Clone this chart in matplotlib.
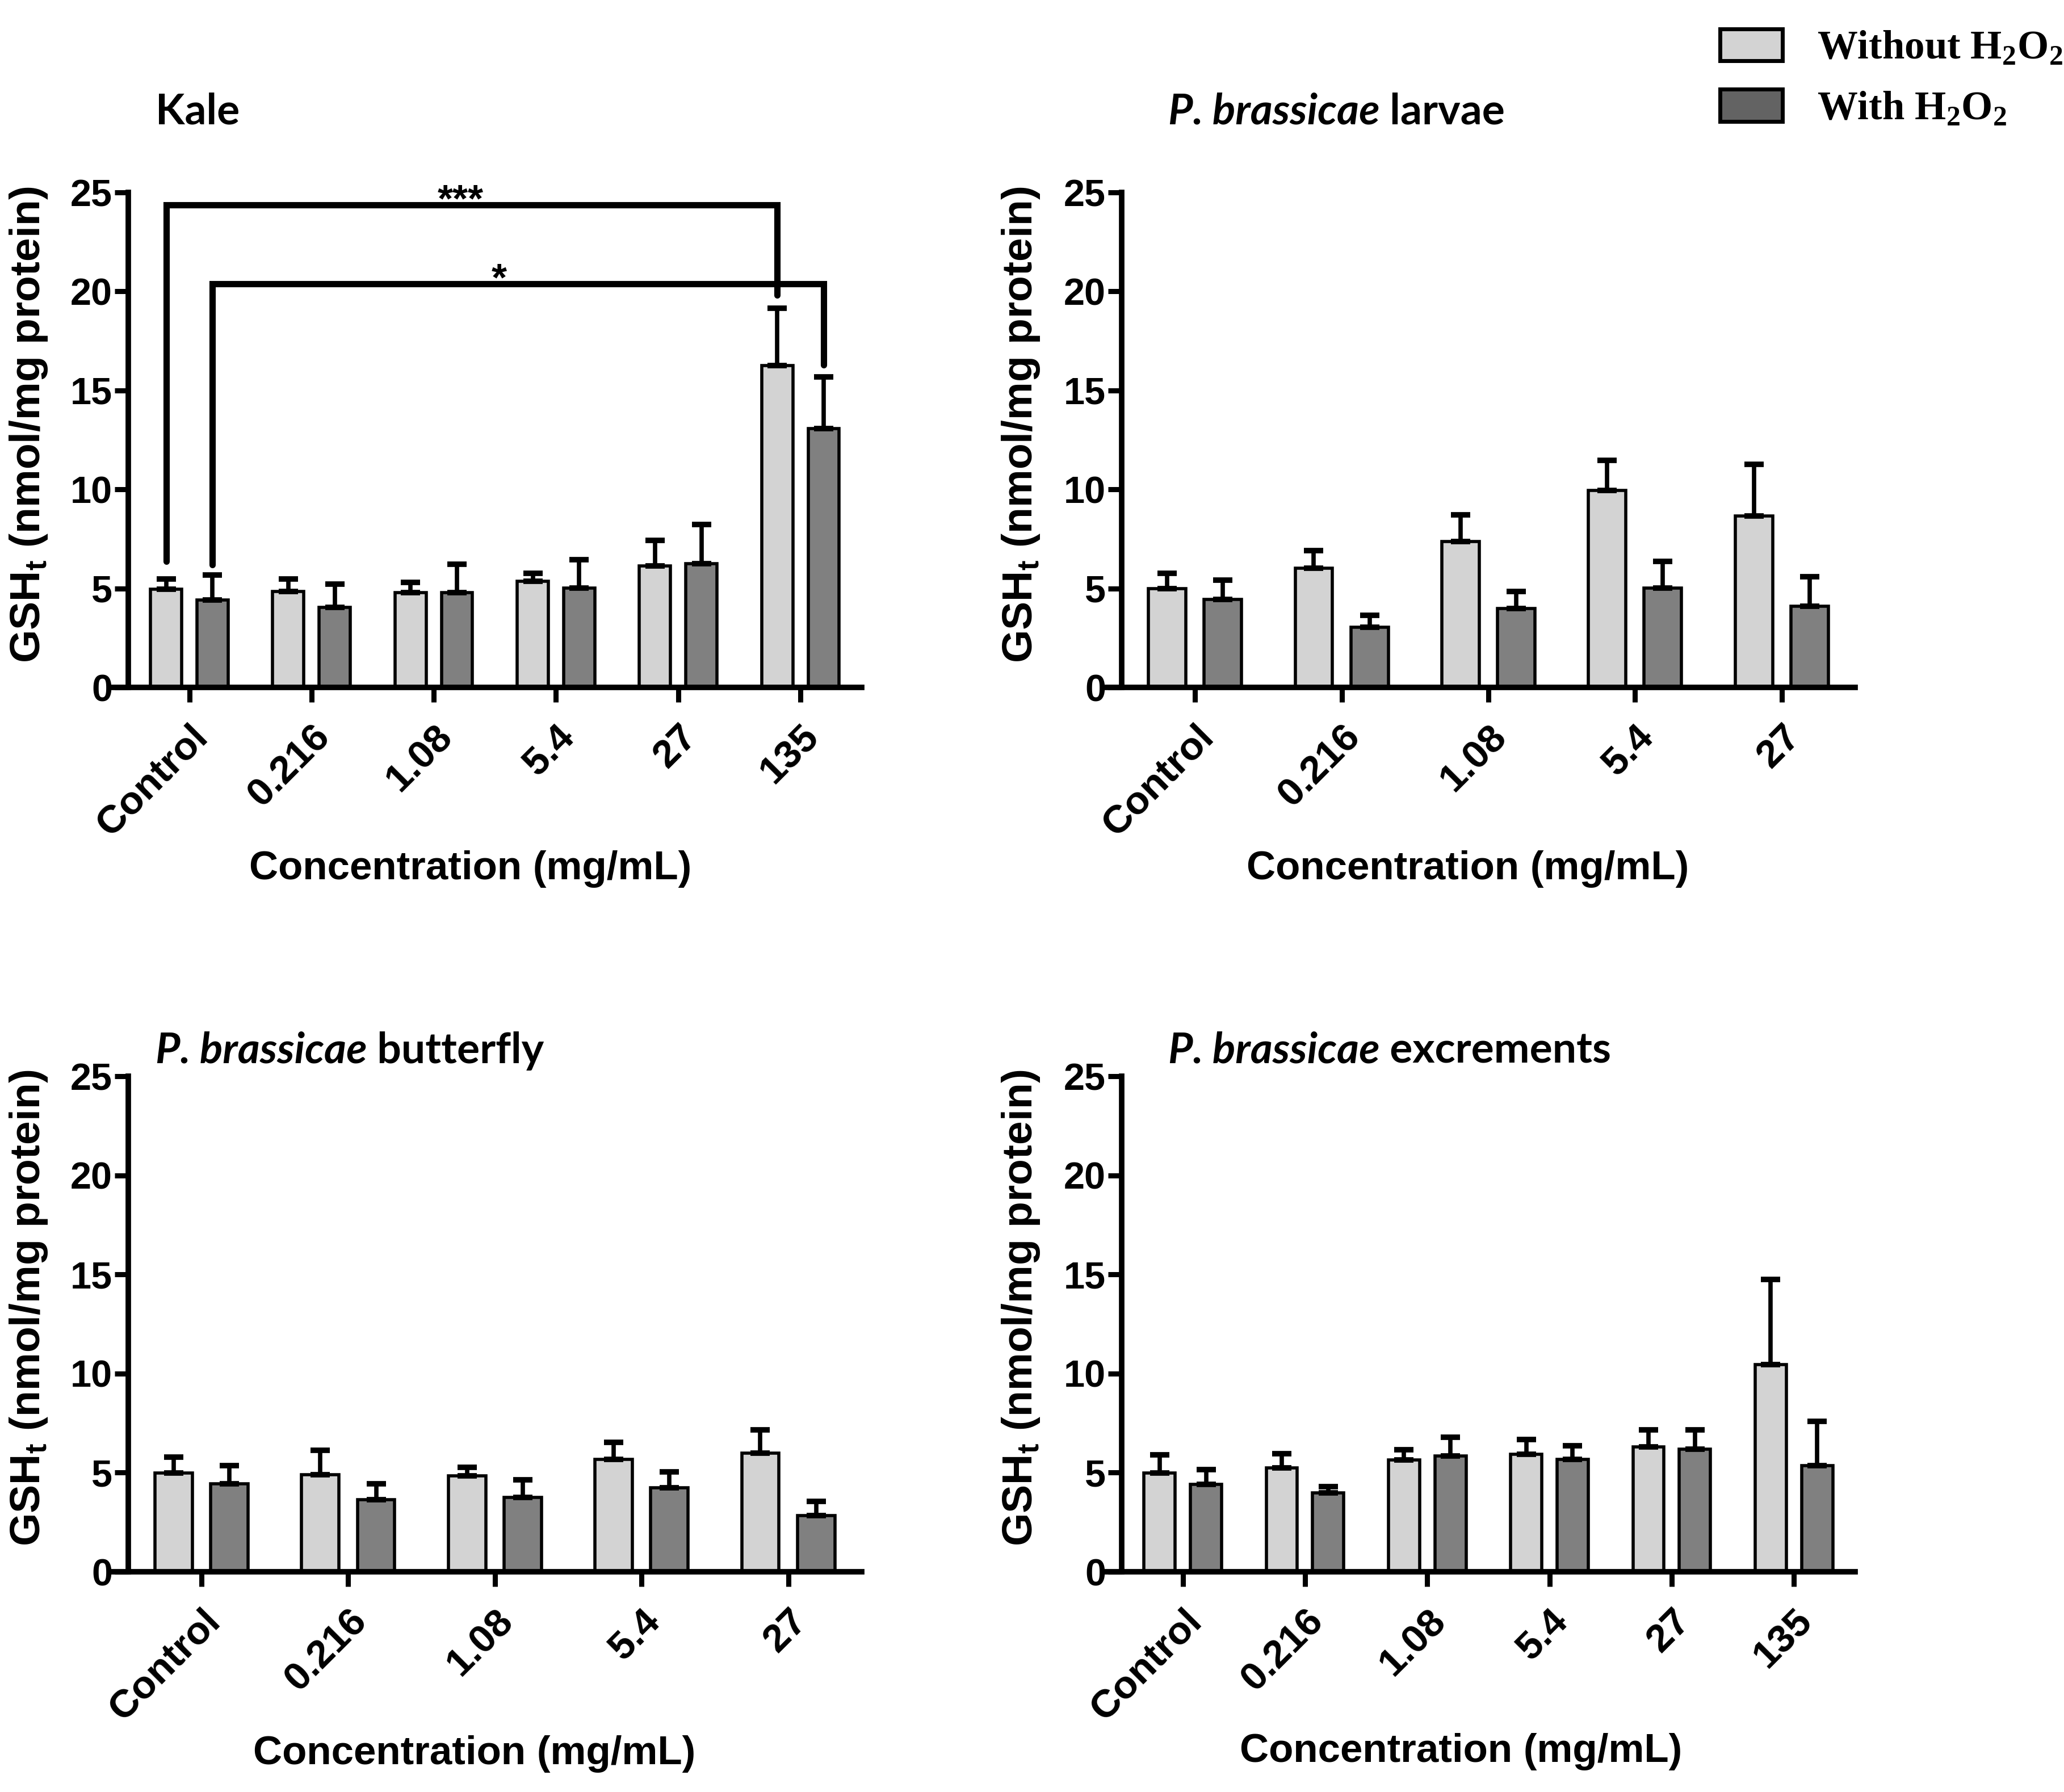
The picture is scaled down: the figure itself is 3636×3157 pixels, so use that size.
import numpy as np
import matplotlib
matplotlib.use("Agg")
import matplotlib.pyplot as plt
from matplotlib.patches import Patch
from matplotlib.transforms import ScaledTranslation

# mathtext fonts: sans bold for GSH_t, serif bold for H2O2
plt.rcParams['mathtext.fontset'] = 'custom'
plt.rcParams['mathtext.rm'] = 'Liberation Sans:bold'
plt.rcParams['mathtext.bf'] = 'Liberation Serif:bold'

# Data --------------------------------------------------------------------------------------------

conc_6 = ["Control", "0.216", "1.08", "5.4", "27", "135"]
conc_5 = ["Control", "0.216", "1.08", "5.4", "27"]

# Kale
kale_wo = [4.97, 4.85, 4.80, 5.35, 6.15, 16.25]
kale_wo_err = [0.50, 0.62, 0.50, 0.40, 1.27, 2.90]
kale_w = [4.43, 4.03, 4.78, 5.03, 6.25, 13.07]
kale_w_err = [1.26, 1.18, 1.45, 1.43, 1.98, 2.62]

# P. brassicae larvae
larv_wo = [4.98, 6.02, 7.37, 9.95, 8.67]
larv_wo_err = [0.78, 0.88, 1.36, 1.51, 2.60]
larv_w = [4.45, 3.03, 3.98, 5.03, 4.10]
larv_w_err = [0.96, 0.61, 0.87, 1.34, 1.50]

# P. brassicae butterfly
butt_wo = [4.97, 4.89, 4.84, 5.67, 5.98]
butt_wo_err = [0.82, 1.25, 0.43, 0.87, 1.17]
butt_w = [4.45, 3.64, 3.76, 4.24, 2.84]
butt_w_err = [0.92, 0.81, 0.87, 0.79, 0.71]

# P. brassicae excrements
excr_wo = [4.97, 5.24, 5.64, 5.93, 6.31, 10.45]
excr_wo_err = [0.93, 0.73, 0.52, 0.74, 0.84, 4.30]
excr_w = [4.42, 3.97, 5.84, 5.67, 6.19, 5.36]
excr_w_err = [0.73, 0.34, 0.96, 0.70, 0.96, 2.22]

# significance brackets on Kale: (group, side) -> (group, side), side -1 = without, +1 = with
sig_left = [(0, -1), (0, 1)]
sig_right = [(5, -1), (5, 1)]
sig_top = [24.38, 20.38]
sig_left_end = [6.37, 6.2]
sig_right_end = [19.8, 16.28]
sig_text = ["***", "*"]
sig_text_x = [2.22, 2.535]
sig_text_y = [24.05, 20.05]

# Style -------------------------------------------------------------------------------------------

c_light = "#d3d3d3"
c_dark = "#808080"
c_dark_leg = "#636363"
bar_w = 0.255
off = 0.19

sans = "Liberation Sans"
narrow = ["Liberation Sans Narrow", "Liberation Sans"]
title_font = "Lato"
title_size = 54

fig = plt.figure(figsize=(36.37, 31.57), dpi=100)


def draw_title(ax, xy, italic_part, plain_part):
    # species name in bold italic, followed by the plain bold word
    if not italic_part:
        return fig.text(xy[0], xy[1], plain_part, fontfamily=title_font, fontweight="bold",
                        fontsize=title_size, ha="left", va="center")
    t1 = fig.text(xy[0], xy[1], italic_part, fontfamily=title_font, fontweight="bold",
                  fontstyle="italic", fontsize=title_size, ha="left", va="center")
    return ax.annotate(" " + plain_part, xy=(1, 0), xycoords=t1, ha="left", va="bottom",
                       fontfamily=title_font, fontweight="bold", fontsize=title_size,
                       annotation_clip=False)


def draw_panel(rect, labels, wo, wo_err, w, w_err, title, title_xy, ylab_xy, xlab_xy):
    ax = fig.add_axes(rect)
    n = len(labels)
    x = np.arange(n)

    ax.bar(x - off, wo, bar_w, color=c_light, edgecolor="black", linewidth=4, zorder=2)
    ax.bar(x + off, w, bar_w, color=c_dark, edgecolor="black", linewidth=4, zorder=2)
    ax.errorbar(x - off, wo, yerr=[np.zeros(n), wo_err], fmt="none", ecolor="black",
                elinewidth=5.5, capsize=12, capthick=7, zorder=3)
    ax.errorbar(x + off, w, yerr=[np.zeros(n), w_err], fmt="none", ecolor="black",
                elinewidth=5.5, capsize=12, capthick=7, zorder=3)

    ax.set_xlim(-0.5, n - 0.5)
    ax.set_ylim(0, 25)
    ax.set_yticks(range(0, 26, 5))
    ax.set_xticks(x)
    ax.set_xticklabels(labels, rotation=45, ha="right", va="top", rotation_mode="anchor",
                       fontfamily=sans, fontweight="bold", fontsize=50)
    for lab in ax.get_yticklabels():
        lab.set_fontfamily(narrow)
        lab.set_fontweight("bold")
        lab.set_fontsize(48)
    shift = ScaledTranslation(0.12, 0, fig.dpi_scale_trans)
    for lab in ax.get_xticklabels():
        lab.set_transform(lab.get_transform() + shift)

    for s in ["top", "right"]:
        ax.spines[s].set_visible(False)
    for s in ["left", "bottom"]:
        ax.spines[s].set_linewidth(7)
    # x axis line runs a little past the y axis, as in the original
    ax_w_px = rect[2] * 3637
    ext = 29 / (ax_w_px / n)
    ax.spines["bottom"].set_bounds(-0.5 - ext, n - 0.5)

    ax.tick_params(axis="y", direction="out", length=17, width=6.5, pad=3)
    ax.tick_params(axis="x", direction="out", length=19, width=6.5, pad=20)

    draw_title(ax, title_xy, title[0], title[1])
    fig.text(ylab_xy[0], ylab_xy[1], r"GSH$_\mathrm{t}$ (nmol/mg protein)", rotation=90,
             fontfamily=sans, fontweight="bold", fontsize=54, ha="center", va="center")
    fig.text(xlab_xy[0], xlab_xy[1], "Concentration (mg/mL)", fontfamily=sans,
             fontweight="bold", fontsize=51, ha="center", va="center")
    return ax


ax_kale = draw_panel([0.0621, 0.6164, 0.3552, 0.2762], conc_6, kale_wo, kale_wo_err, kale_w, kale_w_err,
                     ("", "Kale"), (0.0753, 0.9376), (0.014, 0.763), (0.2277, 0.515))
draw_panel([0.5433, 0.6164, 0.3552, 0.2762], conc_5, larv_wo, larv_wo_err, larv_w, larv_w_err,
           ("P. brassicae", "larvae"), (0.5658, 0.9376), (0.4944, 0.763), (0.711, 0.515))
draw_panel([0.0621, 0.1229, 0.3552, 0.2765], conc_5, butt_wo, butt_wo_err, butt_w, butt_w_err,
           ("P. brassicae", "butterfly"), (0.0753, 0.4136), (0.014, 0.270), (0.2297, 0.0212))
draw_panel([0.5433, 0.1229, 0.3552, 0.2765], conc_6, excr_wo, excr_wo_err, excr_w, excr_w_err,
           ("P. brassicae", "excrements"), (0.5658, 0.4136), (0.4944, 0.270), (0.7075, 0.0226))

# significance brackets on the Kale panel
for i in range(len(sig_text)):
    xl = sig_left[i][0] + sig_left[i][1] * off
    xr = sig_right[i][0] + sig_right[i][1] * off
    ax_kale.plot([xl, xl, xr, xr], [sig_left_end[i], sig_top[i], sig_top[i], sig_right_end[i]],
                 color="black", lw=8, solid_capstyle="round", solid_joinstyle="miter",
                 clip_on=False, zorder=4)
    ax_kale.text(sig_text_x[i], sig_text_y[i], sig_text[i], fontfamily=sans, fontweight="bold",
                 fontsize=50, ha="center", va="baseline")

# legend
handles = [
    Patch(facecolor=c_light, edgecolor="black", linewidth=5, label=r"Without H$_\mathbf{2}$O$_\mathbf{2}$"),
    Patch(facecolor=c_dark_leg, edgecolor="black", linewidth=5, label=r"With H$_\mathbf{2}$O$_\mathbf{2}$"),
]
fig.legend(handles=handles, loc="upper left", bbox_to_anchor=(0.8331, 0.984), frameon=False,
           prop=dict(family="Liberation Serif", weight="bold", size=51),
           handlelength=1.56, handleheight=0.86, handletextpad=0.86, labelspacing=0.55,
           borderpad=0, borderaxespad=0)

fig.savefig("out.png", dpi=100)
